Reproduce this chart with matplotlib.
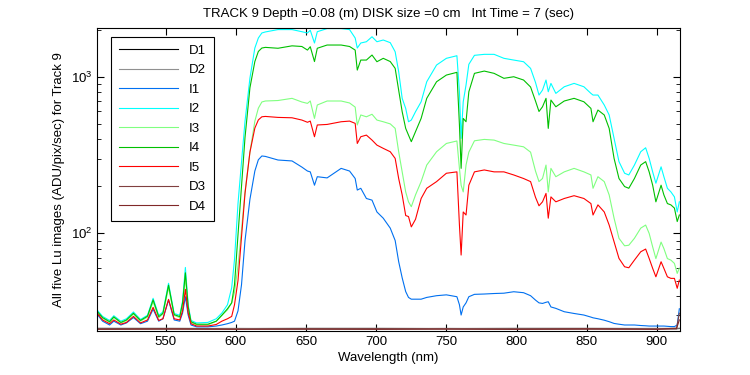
import matplotlib
matplotlib.use('Agg')
import matplotlib.pyplot as plt
from matplotlib.ticker import LogLocator, NullFormatter, FixedLocator

matplotlib.rc('font', family=['Liberation Sans', 'DejaVu Sans'], size=9.5)

# wavelength grid (nm) shared by the five image series
wl = [501, 505, 510, 513, 518, 522, 527, 532, 537, 541,
      545, 548, 552, 556, 560, 562, 564, 566, 568, 572,
      580, 586, 590, 594, 597, 599, 601.5, 604, 606.5, 610,
      613.5, 616, 618.5, 621, 630, 640, 647, 651, 653, 656,
      658, 665, 675, 681, 685, 686.5, 689, 693, 697, 700.5,
      705, 710, 713.5, 716, 718.5, 721, 723, 725, 728, 732,
      736, 743, 750, 757.5, 759.3, 760.5, 762, 764, 766, 770,
      777, 784, 791, 798, 805, 810, 813.5, 816, 818.5, 821,
      822.6, 824.5, 828, 834, 841, 848, 853, 854.5, 858, 862.5,
      866, 869.5, 873, 877, 880, 884, 888.5, 892, 894.5, 897,
      899.3, 903, 905, 907.5, 910, 912.5, 914.5, 916]

I1 = [30.5, 27.5, 26, 27.5, 26, 26.8, 29, 26.5, 27.5, 32.8,
      27.5, 28.5, 37.5, 28, 27.5, 31, 39.4, 30, 26, 25.3,
      25.3, 25.6, 26, 26.5, 27, 27.5, 32, 47, 90, 165,
      250, 295, 312, 310, 294, 290, 265, 250, 247, 203,
      230, 226, 260, 250, 224, 189, 194, 167, 163, 137,
      125, 108, 90, 66, 52, 42.5, 39, 38, 38, 38,
      39, 40, 40.5, 39.4, 35, 30.1, 33.9, 36, 39.4, 40.8,
      41, 41.3, 41.5, 42.4, 41.8, 40, 37.5, 36, 35.7, 36.3,
      36.6, 33.9, 33.2, 31.6, 30.8, 30.1, 29.2, 28.9, 28.5, 27.9,
      27.3, 26.6, 26.3, 26, 26, 26, 25.8, 25.7, 25.6, 25.6,
      25.6, 25.6, 25.6, 25.5, 25.4, 25.4, 26, 33]

I2 = [32.5, 29.5, 27.8, 29.8, 27.5, 28.5, 31.5, 28.2, 30, 38.5,
      30, 31.5, 48, 30.8, 30, 37, 60.6, 35, 27.8, 26.8,
      27, 28.5, 31, 35, 45, 68, 155, 285, 520, 980,
      1525, 1767, 1903, 1932, 2000, 2000, 1939, 1903, 1980, 1642,
      1939, 2030, 2030, 2000, 1767, 1525, 1642, 1673, 1800, 1673,
      1716, 1650, 1444, 1077, 728, 628, 516, 529, 598, 692,
      929, 1188, 1311, 1362, 802, 404, 692, 885, 1200, 1370,
      1390, 1390, 1311, 1278, 1247, 1131, 920, 764, 822, 953,
      802, 907, 783, 863, 907, 863, 783, 764, 764, 660,
      570, 404, 287, 242, 236, 273, 332, 352, 301, 247,
      209, 266, 230, 194, 184, 171, 137, 159]

I3 = [31.5, 28.7, 27, 29, 26.8, 27.7, 30.5, 27.5, 29.2, 36.5,
      29, 30.5, 45, 30, 29, 35, 52, 33, 27, 26,
      26, 27.5, 30, 32.5, 36, 42, 62, 105, 185, 330,
      520, 630, 690, 700, 705, 728, 690, 676, 700, 542,
      660, 700, 700, 680, 640, 492, 570, 555, 576, 529,
      516, 500, 468, 332, 247, 184, 159, 148, 176, 214,
      273, 332, 375, 389, 260, 203, 184, 273, 330, 390,
      398, 394, 375, 366, 357, 330, 250, 214, 224, 273,
      184, 260, 230, 247, 260, 247, 236, 194, 230, 214,
      176, 125, 93, 83.3, 84, 93, 108, 113, 100, 82,
      69, 88, 80, 69, 67.5, 64.3, 55.5, 60]

I4 = [31.9, 29, 27.3, 29.3, 27, 28, 30.9, 27.8, 29.6, 37.6,
      29.4, 30.9, 46.7, 30.3, 29.4, 36, 56, 34, 27.3, 26.3,
      26.3, 27.5, 30, 33, 36, 47, 98, 200, 410, 850,
      1250, 1450, 1525, 1540, 1520, 1575, 1560, 1480, 1555, 1250,
      1520, 1594, 1594, 1560, 1480, 1103, 1278, 1278, 1376, 1247,
      1311, 1250, 1131, 820, 598, 468, 424, 385, 446, 542,
      728, 929, 1025, 1067, 492, 260, 542, 516, 802, 1051,
      1087, 1051, 977, 1000, 953, 860, 700, 600, 643, 728,
      468, 710, 643, 700, 728, 692, 628, 516, 613, 570,
      468, 301, 224, 199, 194, 224, 273, 287, 247, 203,
      159, 203, 176, 155, 152, 145, 119, 131]

I5 = [31, 28, 26.5, 28, 26.3, 27, 29.5, 26.8, 28, 33.7,
      27.8, 28.5, 37.9, 28.5, 28, 32, 43.9, 31, 26.5, 25.6,
      25.6, 26.2, 27.5, 28.5, 29.5, 35, 50, 95, 180, 330,
      470, 530, 555, 558, 550, 547, 529, 512, 521, 414,
      492, 496, 516, 521, 504, 375, 414, 424, 394, 366,
      349, 332, 301, 224, 176, 130, 128, 110, 123, 167,
      194, 214, 242, 247, 113, 72.7, 137, 131, 203, 247,
      254, 247, 247, 236, 224, 214, 170, 150, 159, 180,
      125, 171, 159, 167, 174, 167, 155, 131, 152, 137,
      113, 88.4, 69.2, 61.2, 60.3, 67.5, 76.3, 79.4, 69.2, 59.8,
      52.8, 65.9, 59.8, 52.8, 51.6, 51.6, 44.6, 50.3]

# dark frames sit near the floor of the axis
wl_dark = [501, 550, 600, 650, 700, 750, 800, 850, 900, 914, 916]
D1 = [24.7, 24.6, 24.7, 24.6, 24.6, 24.7, 24.6, 24.6, 24.7, 24.6, 24.7]
D2 = [24.8, 24.8, 24.7, 24.8, 24.8, 24.7, 24.8, 24.8, 24.7, 24.8, 24.8]
D3 = [24.5, 24.6, 24.5, 24.5, 24.6, 24.5, 24.5, 24.6, 24.5, 24.8, 30.9]
D4 = [24.4, 24.5, 24.4, 24.5, 24.4, 24.5, 24.4, 24.5, 24.4, 24.6, 28.0]

series = [
    ('D1', wl_dark, D1, 'black'),
    ('D2', wl_dark, D2, '#909090'),
    ('I1', wl, I1, '#0070F0'),
    ('I2', wl, I2, '#00FFFF'),
    ('I3', wl, I3, '#80FF80'),
    ('I4', wl, I4, '#00C000'),
    ('I5', wl, I5, '#FF0000'),
    ('D3', wl_dark, D3, '#804040'),
    ('D4', wl_dark, D4, '#802828'),
]

fig = plt.figure(figsize=(7.5, 3.75), dpi=100)
ax = fig.add_axes([0.1293, 0.1173, 0.7774, 0.808])

for label, x, y, color in series:
    ax.plot(x, y, color=color, linewidth=0.8, label=label)

ax.set_yscale('log')
ax.set_xlim(501, 916.5)
ax.set_ylim(23.8, 2047)
ax.xaxis.set_major_locator(FixedLocator([550, 600, 650, 700, 750, 800, 850, 900]))
ax.yaxis.set_major_locator(LogLocator(base=10))
ax.yaxis.set_minor_locator(LogLocator(base=10, subs=range(2, 10)))
ax.yaxis.set_minor_formatter(NullFormatter())
ax.tick_params(which='both', direction='in', top=True, right=True)
ax.tick_params(which='major', length=5)
ax.tick_params(which='minor', length=3)
for s in ax.spines.values():
    s.set_linewidth(0.8)

ax.set_title('TRACK 9 Depth =0.08 (m) DISK size =0 cm   Int Time = 7 (sec)',
             fontsize=9.5, pad=8)
ax.set_xlabel('Wavelength (nm)', labelpad=3)
ax.set_ylabel('All five Lu images (ADU/pix/sec) for Track 9', labelpad=4)

leg = ax.legend(loc='upper left', bbox_to_anchor=(0.013, 0.993), frameon=True,
                fancybox=False, edgecolor='black', framealpha=1,
                handlelength=4.5, labelspacing=0.55, borderpad=0.6,
                fontsize=9.5)
leg.get_frame().set_linewidth(0.8)

fig.savefig('out.png', dpi=100)
